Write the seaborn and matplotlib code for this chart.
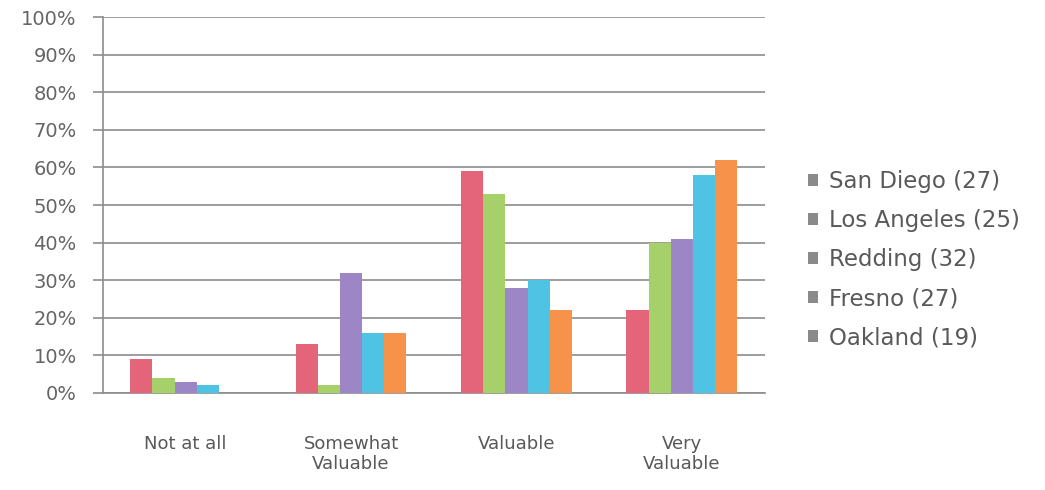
import matplotlib
matplotlib.use("Agg")
import matplotlib.pyplot as plt
import matplotlib.patches as mpatches
import numpy as np
import pandas as pd
import seaborn as sns
from matplotlib.ticker import PercentFormatter

CATEGORIES = ["Not at all", "Somewhat\nValuable", "Valuable", "Very\nValuable"]
CITIES = ["San Diego (27)", "Los Angeles (25)", "Redding (32)", "Fresno (27)", "Oakland (19)"]

SAN_DIEGO = [9, 13, 59, 22]
LOS_ANGELES = [4, 2, 53, 40]
REDDING = [3, 32, 28, 41]
FRESNO = [2, 16, 30, 58]
OAKLAND = [0, 16, 22, 62]

CITY_COLORS = ["#E4647A", "#A6D06A", "#9C86C6", "#4EC3E4", "#F7924A"]

sns.set_theme(style="white")
plt.rcParams["font.family"] = ["DejaVu Sans"]

rows = []
for city, vals in zip(CITIES, [SAN_DIEGO, LOS_ANGELES, REDDING, FRESNO, OAKLAND]):
    for cat, v in zip(CATEGORIES, vals):
        rows.append({"category": cat, "city": city, "value": v})
df = pd.DataFrame(rows)

fig = plt.figure(figsize=(10.45, 4.9), dpi=100)
ax = fig.add_axes([0.0986, 0.198, 0.633, 0.767])

sns.barplot(data=df, x="category", y="value", hue="city", order=CATEGORIES,
            hue_order=CITIES, palette=CITY_COLORS, width=0.67, saturation=1,
            errorbar=None, ax=ax, zorder=3, legend=False, linewidth=0)

ax.set_ylim(0, 100)
ax.set_xlim(-0.5, 3.5)
ax.set_yticks(np.arange(0, 101, 10))
ax.yaxis.set_major_formatter(PercentFormatter(decimals=0))
ax.yaxis.grid(True, color="#8c8c8c", linewidth=1.2, zorder=0)
ax.set_axisbelow(True)
for side in ["top", "right"]:
    ax.spines[side].set_visible(False)
for side in ["left", "bottom"]:
    ax.spines[side].set_color("#8c8c8c")
    ax.spines[side].set_linewidth(1.2)
ax.tick_params(axis="y", which="major", left=True, length=7, direction="out",
               color="#8c8c8c", width=1.2, pad=12, labelsize=14, labelcolor="#656565")
ax.tick_params(axis="x", bottom=False, labelsize=13, labelcolor="#595959", pad=24)
ax.set_xlabel("")
ax.set_ylabel("")

handles = [mpatches.Patch(facecolor="#8a8a8a", edgecolor="none") for _ in CITIES]
fig.legend(handles, CITIES, loc="center left", bbox_to_anchor=(0.753, 0.47),
           frameon=False, fontsize=16.5, labelcolor="#595959", labelspacing=0.7,
           handlelength=0.45, handleheight=0.45, handletextpad=0.5)

fig.savefig("out.png", dpi=100)
